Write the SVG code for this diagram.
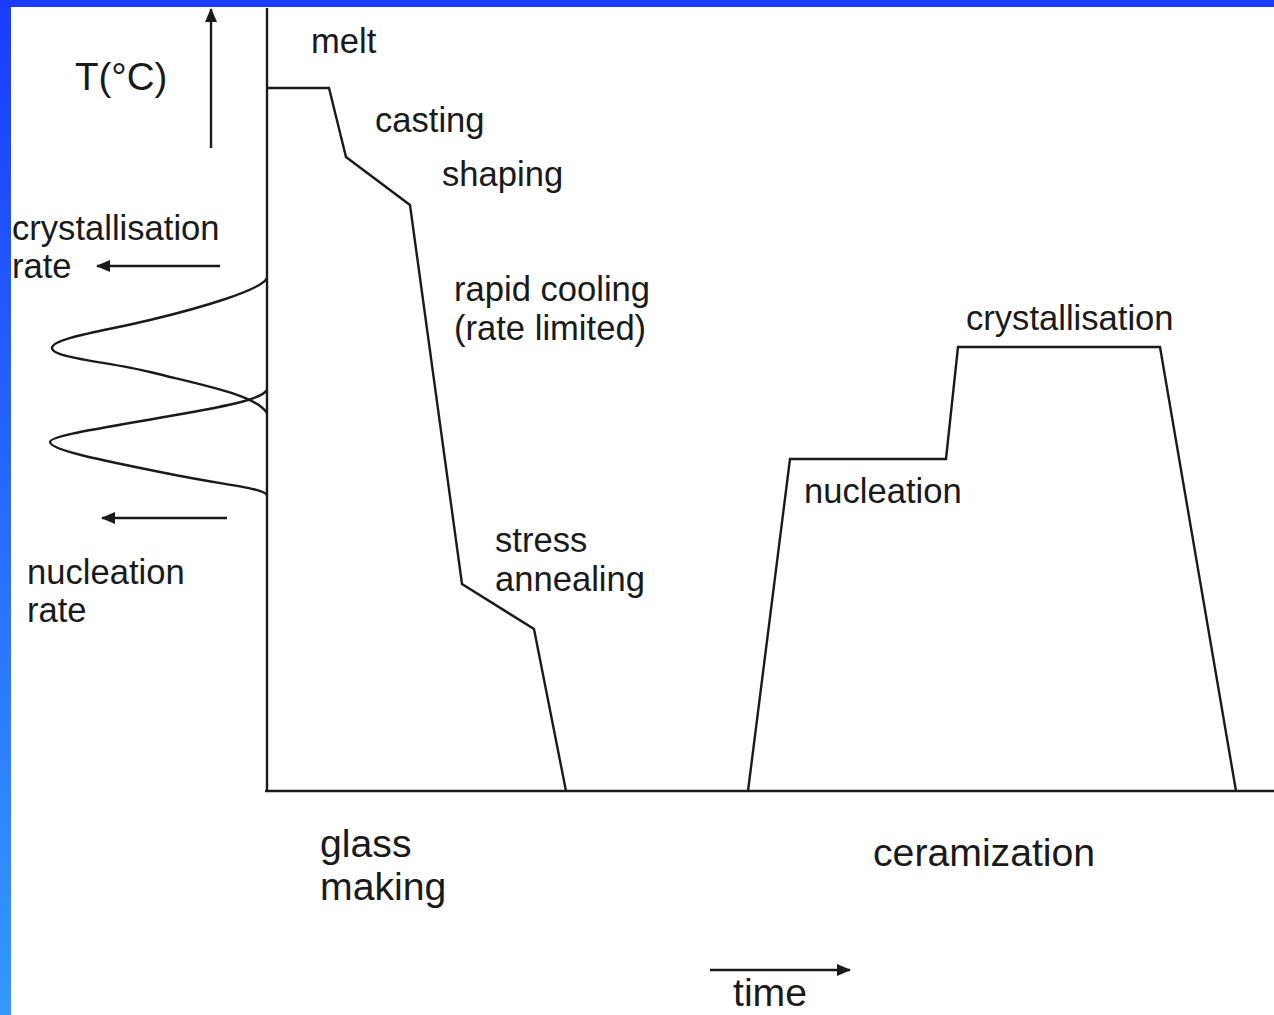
<svg xmlns="http://www.w3.org/2000/svg" width="1274" height="1015" viewBox="0 0 1274 1015">
<defs>
<linearGradient id="side" x1="0" y1="0" x2="0" y2="1">
<stop offset="0" stop-color="#1a3cff"/>
<stop offset="1" stop-color="#3399ff"/>
</linearGradient>
<marker id="ah" viewBox="0 0 14 12" refX="13" refY="6" markerWidth="14" markerHeight="12" markerUnits="userSpaceOnUse" orient="auto">
<path d="M0,0 L14,6 L0,12 Z" fill="#1a1a1a"/>
</marker>
<style>
.ln{fill:none;stroke:#1a1a1a;stroke-width:2.4;stroke-linejoin:miter}
.t{font-family:"Liberation Sans",Arial,sans-serif;fill:#1a1a1a;font-size:34.6px}
.big{font-size:39.2px}
</style>
</defs>
<rect x="0" y="0" width="1274" height="1015" fill="#ffffff"/>
<rect x="0" y="0" width="1274" height="7" fill="#1a3cff"/>
<rect x="0" y="0" width="11" height="1015" fill="url(#side)"/>

<g id="connectors">
<path id="axes" class="ln" d="M267,8 L267,791 M265,791 L1274,791"/>
<line id="t-arrow" class="ln" x1="211" y1="148" x2="211" y2="9" marker-end="url(#ah)"/>
<line id="cryst-arrow" class="ln" x1="220" y1="266" x2="97" y2="266" marker-end="url(#ah)"/>
<line id="nucl-arrow" class="ln" x1="227" y1="518" x2="102" y2="518" marker-end="url(#ah)"/>
<line id="time-arrow" class="ln" x1="710" y1="970" x2="850" y2="970" marker-end="url(#ah)"/>
<path id="glass-curve" class="ln" d="M267,88 L329,88 L346,157 L410,205 L462,584 L534,629 L566,791"/>
<path id="ceram-curve" class="ln" d="M748,791 L790,459 L946,459 L958,347 L1160,347 L1236,791"/>
<path id="cryst-rate-curve" class="ln" d="M267,278 C262,290 200,308 150,320 C110,330 52,338 52,348 C52,358 110,362 150,372 C210,387 255,395 267,413"/>
<path id="nucl-rate-curve" class="ln" d="M267,390 C262,398 240,404 170,416 C90,430 50,436 50,442 C50,450 100,460 170,474 C230,486 262,488 267,495"/>
</g>

<g id="label-T"><text class="t" style="font-size:38.5px" x="75" y="90">T(°C)</text></g>
<g id="label-melt"><text class="t" x="311" y="53">melt</text></g>
<g id="label-casting"><text class="t" x="375" y="132">casting</text></g>
<g id="label-shaping"><text class="t" x="442" y="186">shaping</text></g>
<g id="label-rapid"><text class="t" x="454" y="301">rapid cooling</text><text class="t" x="454" y="340">(rate limited)</text></g>
<g id="label-stress"><text class="t" x="495" y="552">stress</text><text class="t" x="495" y="591">annealing</text></g>
<g id="label-cryst-rate"><text class="t" x="12" y="240">crystallisation</text><text class="t" x="12" y="278">rate</text></g>
<g id="label-nucl-rate"><text class="t" x="27" y="584">nucleation</text><text class="t" x="27" y="622">rate</text></g>
<g id="label-crystallisation"><text class="t" x="966" y="330">crystallisation</text></g>
<g id="label-nucleation"><text class="t" x="804" y="503">nucleation</text></g>
<g id="label-glass"><text class="t big" x="320" y="857">glass</text><text class="t big" x="320" y="900">making</text></g>
<g id="label-ceram"><text class="t big" x="873" y="866">ceramization</text></g>
<g id="label-time"><text class="t big" x="733" y="1006">time</text></g>
</svg>
